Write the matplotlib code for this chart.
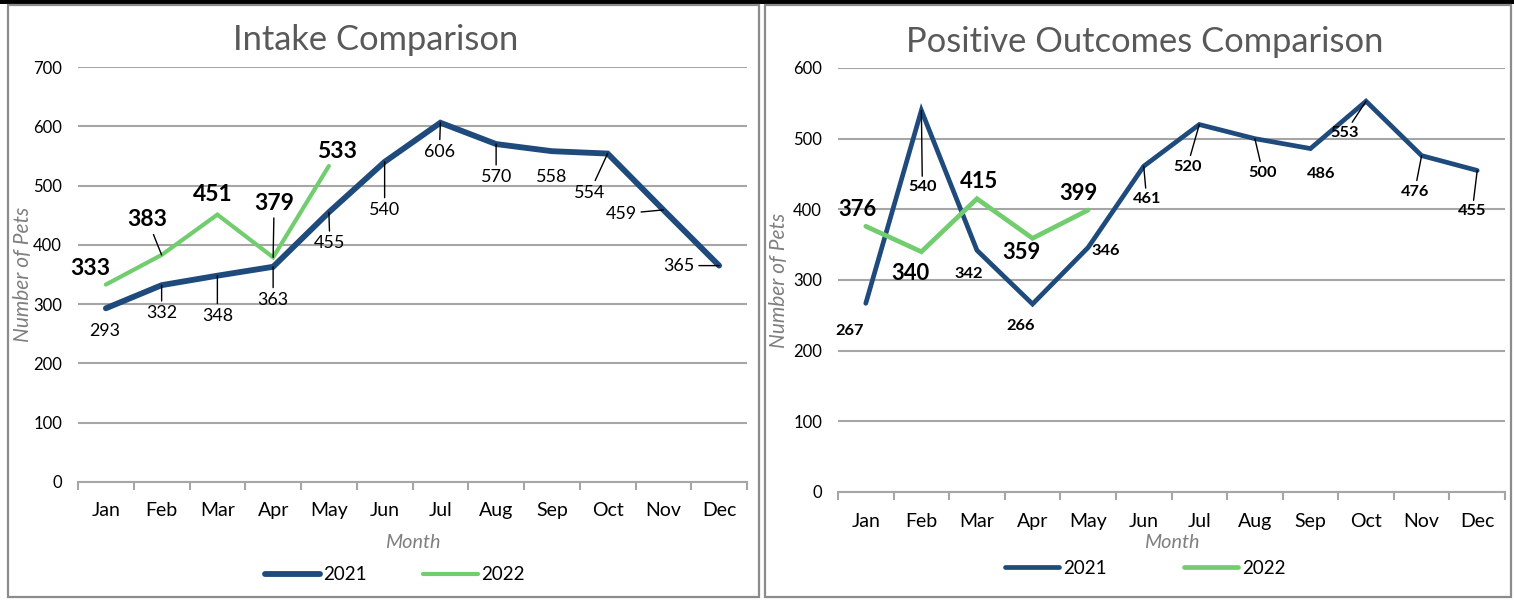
import numpy as np
import matplotlib
matplotlib.use("Agg")
import matplotlib.pyplot as plt
from matplotlib.patches import Rectangle

plt.rcParams['font.family'] = ['Lato', 'DejaVu Sans']

months = ['Jan', 'Feb', 'Mar', 'Apr', 'May', 'Jun', 'Jul', 'Aug', 'Sep', 'Oct', 'Nov', 'Dec']

intake_2021 = [293, 332, 348, 363, 455, 540, 606, 570, 558, 554, 459, 365]
intake_2022 = [333, 383, 451, 379, 533]
outcomes_2021 = [267, 540, 342, 266, 346, 461, 520, 500, 486, 553, 476, 455]
outcomes_2022 = [376, 340, 415, 359, 399]

# label offsets in pixels (dx, dy) and whether a leader line is drawn
intake_21_off = [(-1, -23), (0, -28), (0, -40), (0, -33), (1, -31), (0, -48),
                 (-1, -29), (0, -33), (0, -26), (-18, -39), (-42, -4), (-40, 0)]
intake_21_lead = [0, 1, 1, 1, 1, 1, 1, 1, 0, 1, 1, 1]
intake_22_off = [(-16, 16), (-14, 35), (-5, 20), (1, 54), (8, 15)]
intake_22_lead = [0, 1, 0, 1, 0]
out_21_off = [(-16, -28), (1, -77), (-8, -24), (-12, -22), (18, -4), (3, -33),
              (-12, -42), (8, -34), (11, -25), (-21, -32), (-7, -36), (-5, -41)]
out_21_lead = [0, 1, 0, 0, 0, 1, 1, 1, 0, 1, 1, 1]
out_22_off = [(-8, 17), (-11, -22), (2, 17), (-11, -14), (-10, 17)]
out_22_lead = [0, 0, 0, 0, 0]

BLUE = '#1F4A7C'
GREEN = '#72CD6E'
GRID = '#A6A6A6'

W, H = 1514, 600
fig = plt.figure(figsize=(W / 100, H / 100), dpi=100)

# black strip on top and panel borders
fig.patches.append(Rectangle((0, 1 - 4 / H), 1, 4 / H, transform=fig.transFigure,
                             facecolor='black', edgecolor='none'))
for x0, x1 in [(8, 759), (765, 1511)]:
    fig.patches.append(Rectangle((x0 / W, 1 - 597 / H), (x1 - x0) / W, 592 / H,
                                 transform=fig.transFigure, facecolor='none',
                                 edgecolor='#8C8C8C', linewidth=1.6))


def labels(ax, vals, offs, leads, size, weight):
    for i, v in enumerate(vals):
        dx, dy = offs[i]
        ap = dict(arrowstyle='-', color='black', lw=1, shrinkA=1, shrinkB=0) if leads[i] else None
        ax.annotate(str(v), xy=(i, v), xytext=(dx * 0.72, dy * 0.72),
                    textcoords='offset points', ha='center', va='center',
                    fontsize=size, fontweight=weight, color='black',
                    arrowprops=ap, zorder=5)


def panel(rect, title, title_x, title_y, ymax, a, b, lw_a, lw_b, tpad, xpad, ylab_x):
    ax = fig.add_axes(rect)
    x = np.arange(12)
    ax.plot(x, a, color=BLUE, lw=lw_a, solid_capstyle='round', solid_joinstyle='miter', label='2021', zorder=3)
    ax.plot(x[:len(b)], b, color=GREEN, lw=lw_b, solid_capstyle='round', solid_joinstyle='miter', label='2022', zorder=4)
    ax.set_xlim(-0.5, 11.5)
    ax.set_ylim(0, ymax)
    ax.set_yticks(np.arange(0, ymax + 1, 100))
    ax.set_xticks(x)
    ax.set_xticklabels(months, fontsize=14)
    ax.set_xticks(np.arange(-0.5, 12, 1), minor=True)
    ax.tick_params(axis='x', which='major', length=0, pad=tpad)
    ax.tick_params(axis='x', which='minor', length=6, width=1.5, color=GRID)
    ax.tick_params(axis='y', length=0, pad=11.5, labelsize=12)
    ax.grid(axis='y', color=GRID, lw=1.5)
    ax.set_axisbelow(True)
    for s in ['top', 'right', 'left']:
        ax.spines[s].set_visible(False)
    ax.spines['bottom'].set_color(GRID)
    ax.spines['bottom'].set_linewidth(1.5)
    ax.set_xlabel('Month', fontsize=14.3, style='italic', color='#7F7F7F', labelpad=xpad)
    ax.set_ylabel('Number of Pets', fontsize=15, style='italic', color='#7F7F7F')
    ax.yaxis.set_label_coords(ylab_x, 0.5)
    fig.text(title_x / W, 1 - title_y / H, title, ha='center', va='center',
             fontsize=24.8, color='#595959')
    return ax


ax1 = panel([78 / W, 1 - 482 / H, 669 / W, 415 / H], 'Intake Comparison', 376, 40,
            700, intake_2021, intake_2022, 4.2, 3.0, 14.5, 11, -0.067)
labels(ax1, intake_2021, intake_21_off, intake_21_lead, 12.9, 'normal')
labels(ax1, intake_2022, intake_22_off, intake_22_lead, 16.5, 'bold')
ax1.legend(loc='center', bbox_to_anchor=(395 / W, 1 - 575 / H), bbox_transform=fig.transFigure,
           ncol=2, frameon=False, fontsize=13.5, handlelength=2.9, handletextpad=0.2,
           columnspacing=3.0)

ax2 = panel([838 / W, 1 - 492 / H, 667 / W, 424 / H], 'Positive Outcomes Comparison', 1145, 42,
            600, outcomes_2021, outcomes_2022, 3.4, 3.4, 15.2, 3, -0.073)
labels(ax2, outcomes_2021, out_21_off, out_21_lead, 11.8, 'bold')
labels(ax2, outcomes_2022, out_22_off, out_22_lead, 15.8, 'bold')
ax2.legend(loc='center', bbox_to_anchor=(1145 / W, 1 - 568 / H), bbox_transform=fig.transFigure,
           ncol=2, frameon=False, fontsize=13.5, handlelength=2.9, handletextpad=0.2,
           columnspacing=4.1)

fig.savefig('out.png', dpi=100)
